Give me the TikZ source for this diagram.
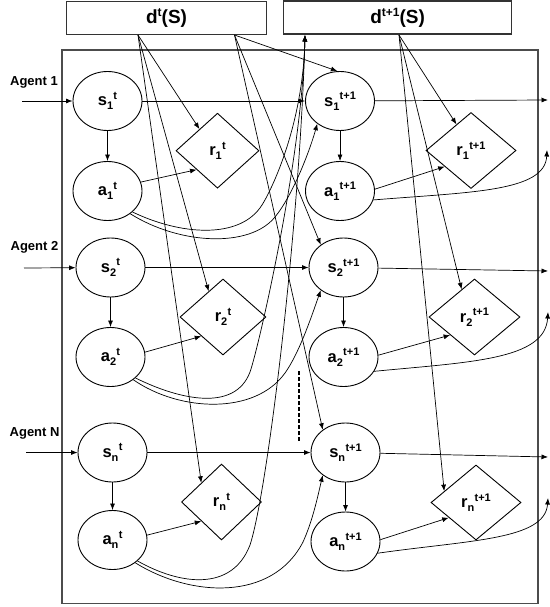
\documentclass[tikz,border=0pt]{standalone}
\usepackage{fontspec}
\setmainfont{Liberation Sans}
\usetikzlibrary{shapes.geometric,arrows.meta,calc}
\newcommand\lab[3]{\textbf{#1\raisebox{-4pt}{\fontsize{11}{11}\selectfont #2}\hspace{0.3pt}\raisebox{6.5pt}{\fontsize{11}{11}\selectfont #3}}}
\newcommand\dlab[1]{\textbf{d\raisebox{7pt}{\fontsize{12}{12}\selectfont #1}(S)}}
\begin{document}
\begin{tikzpicture}[x=1pt,y=-1pt,
  arr/.style={-{Latex[length=6.5pt,width=5pt]}, line width=0.7pt},
  ell/.style={ellipse, draw, line width=0.9pt, minimum width=69pt, minimum height=59pt, inner sep=0pt, font=\fontsize{16.5}{16.5}\selectfont},
  dia/.style={diamond, draw, line width=0.9pt, minimum height=76pt, inner sep=0pt, font=\fontsize{16.5}{16.5}\selectfont},
  hdr/.style={draw=black!80, line width=1.1pt, minimum height=33pt, inner sep=0pt, font=\fontsize{19}{19}\selectfont},
  agent/.style={font=\fontsize{13}{13}\selectfont\bfseries, inner sep=0pt}]
\useasboundingbox (0,0) rectangle (549,607);
% frame and header boxes
\node[draw=black!70, line width=1.4pt, minimum width=476pt, minimum height=553.5pt, inner sep=0pt] (frame) at (300,326.75) {};
\node[hdr, minimum width=200pt] (dt) at (166.6,18) {\dlab{t}};
\node[hdr, minimum width=228pt] (dn) at (397.6,17.5) {\dlab{t+1}};
% agent labels
\node[agent] (ag1) at (34,82) {Agent 1};
\node[agent] (ag2) at (34.5,247.5) {Agent 2};
\node[agent] (agN) at (34.6,433.5) {Agent N};
% row 1
\node[ell] (s1t) at (107.5,101) {\lab{s}{1}{t}};
\node[ell] (a1t) at (107.5,191) {\lab{a}{1}{t}};
\node[dia, minimum width=83pt, minimum height=75pt] (r1t) at (217.5,150.7) {\lab{r}{1}{t}};
\node[ell] (s1n) at (340,101) {\lab{s}{1}{t+1}};
\node[ell] (a1n) at (340,191) {\lab{a}{1}{t+1}};
\node[dia, minimum width=90pt] (r1n) at (471,150.5) {\lab{r}{1}{t+1}};
% row 2
\node[ell] (s2t) at (110.5,267.5) {\lab{s}{2}{t}};
\node[ell] (a2t) at (110.5,357) {\lab{a}{2}{t}};
\node[dia, minimum width=86pt] (r2t) at (223,317) {\lab{r}{2}{t}};
\node[ell] (s2n) at (343.5,267.5) {\lab{s}{2}{t+1}};
\node[ell] (a2n) at (343.5,357) {\lab{a}{2}{t+1}};
\node[dia, minimum width=91pt] (r2n) at (474.5,317) {\lab{r}{2}{t+1}};
% row N
\node[ell] (sNt) at (112.5,452.5) {\lab{s}{n}{t}};
\node[ell] (aNt) at (112.5,540) {\lab{a}{n}{t}};
\node[dia, minimum width=80pt] (rNt) at (221.5,502) {\lab{r}{n}{t}};
\node[ell] (sNn) at (345.5,452.5) {\lab{s}{n}{t+1}};
\node[ell] (aNn) at (345.5,541.5) {\lab{a}{n}{t+1}};
\node[dia, minimum width=90pt, minimum height=75pt] (rNn) at (476,502.5) {\lab{r}{n}{t+1}};
% coordinates
\coordinate (dA) at (138,35);
\coordinate (dB) at (234.5,35);
\coordinate (dC) at (399,35);
\coordinate (dIn) at (305,35);
\coordinate (in1) at (22,101);
\coordinate (in2) at (24,268);
\coordinate (inN) at (26,452.5);
\coordinate (o1) at (548,100);
\coordinate (o2) at (548,271);
\coordinate (oN) at (548,457);
\coordinate (u1) at (547,150);
\coordinate (u2) at (548,312);
\coordinate (uN) at (548,498);
% lines from the header boxes
\draw[arr] (dA) -- ($(r1t.west)!0.57!(r1t.north)$);
\draw[arr] (dA) -- ($(r2t.west)!0.67!(r2t.north)$);
\draw[arr] (dA) -- ($(rNt.west)!0.5!(rNt.north)$);
\draw[arr] (dB) -- (s1n.95);
\draw[arr] (dB) -- (s2n.135);
\draw[arr] (dB) -- (sNn.135);
\draw[arr] (dC) -- ($(r1n.west)!0.68!(r1n.north)$);
\draw[arr] (dC) -- ($(r2n.west)!0.72!(r2n.north)$);
\draw[arr] (dC) -- ($(rNn.west)!0.3!(rNn.north)$);
% row 1 connectors
\draw[arr] (in1) -- (s1t);
\draw[arr] (s1t) -- (a1t);
\draw[arr] (s1t) -- (s1n);
\draw[arr] (s1n) -- (o1);
\draw[arr] (s1n) -- (a1n);
\draw[arr] (a1t.15) -- ($(r1t.west)!0.5!(r1t.south)$);
\draw[arr] (a1n.3) -- ($(r1n.west)!0.42!(r1n.south)$);
\draw[arr] (a1n.-15) .. controls (470,192) and (545,192) .. (u1);
\draw[arr] (a1t.-40) .. controls (180,235) and (240,240) .. (262,205) .. controls (275,184) and (303,120) .. (dIn);
\draw[arr] (a1t.-45) .. controls (180,245) and (250,248) .. (275,217) .. controls (293,195) and (310,150) .. (s1n.225);
% row 2 connectors
\draw[arr] (in2) -- (s2t);
\draw[arr] (s2t) -- (a2t);
\draw[arr] (s2t) -- (s2n);
\draw[arr] (s2n) -- (o2);
\draw[arr] (s2n) -- (a2n);
\draw[arr] (a2t.8) -- ($(r2t.west)!0.5!(r2t.south)$);
\draw[arr] (a2n.3) -- ($(r2n.west)!0.47!(r2n.south)$);
\draw[arr] (a2n.-25) .. controls (470,362) and (545,360) .. (u2);
\draw[arr] (a2t.-40) .. controls (180,400) and (235,412) .. (250,372) .. controls (258,350) and (302,160) .. (dIn);
\draw[arr] (a2t.-45) .. controls (180,412) and (255,415) .. (285,373) .. controls (300,352) and (313,312) .. (s2n.225);
% row N connectors
\draw[arr] (inN) -- (sNt);
\draw[arr] (sNt) -- (aNt);
\draw[arr] (sNt) -- (sNn);
\draw[arr] (sNn) -- (oN);
\draw[arr] (sNn) -- (aNn);
\draw[arr] (aNt.8) -- ($(rNt.west)!0.5!(rNt.south)$);
\draw[arr] (aNn.3) -- ($(rNn.west)!0.4!(rNn.south)$);
\draw[arr] (aNn.-20) .. controls (470,540) and (545,540) .. (uN);
\draw[arr] (aNt.-40) .. controls (180,585) and (232,592) .. (250,545) .. controls (268,490) and (300,220) .. (dIn);
\draw[arr] (aNt.-45) .. controls (190,597) and (272,602) .. (303,542) .. controls (313,520) and (318,495) .. (sNn.225);
% vertical ellipsis
\draw[line width=2.2pt, dash pattern=on 4pt off 2pt] (299,371) -- (299,442);
\end{tikzpicture}
\end{document}
